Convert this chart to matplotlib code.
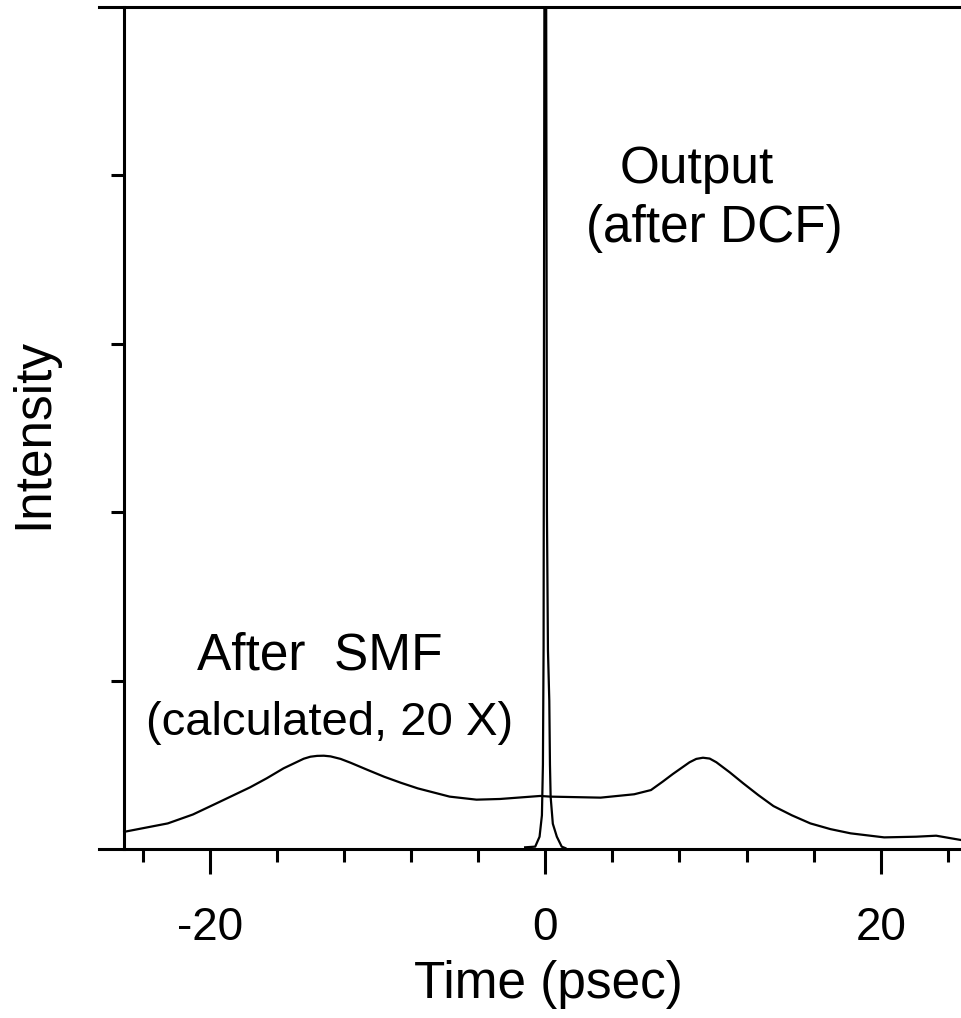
import matplotlib
matplotlib.use("Agg")
import matplotlib.pyplot as plt
from matplotlib.ticker import FixedLocator, NullFormatter

plt.rcParams['font.family'] = ['Liberation Sans', 'DejaVu Sans']
plt.rcParams['axes.unicode_minus'] = False

# After SMF (calculated, 20 X)
t_smf = [-25.1, -22.5, -21.0, -19.6, -17.6, -16.6, -15.6, -14.4, -14.0, -13.6,
         -13.2, -12.8, -12.2, -11.6, -10.6, -9.6, -8.6, -7.6, -5.7, -4.1, -2.7,
         -0.3, 0.3, 3.3, 5.3, 6.3, 7.0, 7.6, 8.6, 9.0, 9.4, 9.8, 10.2, 11.0,
         11.8, 12.7, 13.6, 14.7, 15.8, 17.0, 18.2, 20.2, 22.1, 23.3, 24.8]
y_smf = [0.102, 0.152, 0.205, 0.271, 0.366, 0.420, 0.479, 0.536, 0.548, 0.553,
         0.554, 0.550, 0.535, 0.512, 0.470, 0.429, 0.393, 0.360, 0.311, 0.293, 0.297,
         0.315, 0.311, 0.305, 0.325, 0.350, 0.400, 0.445, 0.515, 0.535, 0.542, 0.537, 0.515, 0.455,
         0.390, 0.320, 0.255, 0.200, 0.152, 0.118, 0.093, 0.069, 0.073, 0.079, 0.053]

# Output (after DCF)
t_dcf = [-1.2, -0.6, -0.34, -0.2, -0.14, -0.1, -0.04, 0.0, 0.04, 0.1, 0.16,
         0.24, 0.28, 0.32, 0.45, 0.69, 0.98, 1.2]
y_dcf = [0.01, 0.014, 0.073, 0.2, 0.5, 1.2, 6.0, 30.0, 6.0, 2.0, 1.18,
         0.88, 0.5, 0.31, 0.15, 0.073, 0.014, 0.005]

major_ticks = [-20, 0, 20]
major_labels = ['-20', '0', '20']
minor_ticks = [-24, -16, -12, -8, -4, 4, 8, 12, 16, 24]
y_ticks = [1, 2, 3, 4]

W, H = 961, 1018
fig = plt.figure(figsize=(W / 100, H / 100), dpi=100)
ax = fig.add_axes([99 / W, 1 - 849 / H, 1 - 99 / W, (849 - 7) / H])

ax.plot(t_smf, y_smf, color='black', lw=1.6)
ax.plot(t_dcf, y_dcf, color='black', lw=1.6)

ax.set_xlim(-26.6, 24.78)
ax.set_ylim(0, 5)

for s in ['top', 'bottom', 'left']:
    ax.spines[s].set_linewidth(2.2)
ax.spines['right'].set_visible(False)
ax.spines['left'].set_position(('data', -25.1))

ax.xaxis.set_major_locator(FixedLocator(major_ticks))
ax.set_xticklabels(major_labels)
ax.xaxis.set_minor_locator(FixedLocator(minor_ticks))
ax.tick_params(axis='x', which='major', direction='out', length=18, width=2.2,
               labelsize=33, pad=23)
ax.tick_params(axis='x', which='minor', direction='out', length=9.5, width=2.2)
ax.yaxis.set_major_locator(FixedLocator(y_ticks))
ax.yaxis.set_major_formatter(NullFormatter())
ax.tick_params(axis='y', which='major', direction='out', length=9.5, width=2.2)


def px(x, y):
    return x / W, 1 - y / H


fig.text(*px(548, 998), 'Time (psec)', fontsize=37, ha='center', va='baseline')
fig.text(34 / W, 1 - 433 / H, 'Intensity', rotation=90, fontsize=37,
         ha='center', va='center')

fig.text(*px(697, 183), 'Output', fontsize=37, ha='center', va='baseline')
fig.text(*px(714, 242), '(after DCF)', fontsize=37, ha='center', va='baseline')
fig.text(*px(320, 670), 'After  SMF', fontsize=37, ha='center', va='baseline')
fig.text(*px(330, 735), '(calculated, 20 X)', fontsize=34, ha='center', va='baseline')

fig.savefig('out.png', dpi=100)
